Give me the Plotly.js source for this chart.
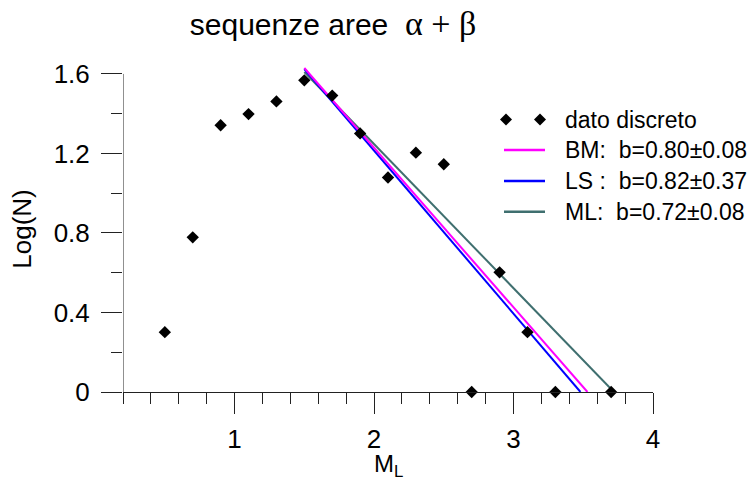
<!DOCTYPE html>
<html>
<head>
<meta charset="utf-8">
<script src="https://cdn.plot.ly/plotly-3.0.1.min.js"></script>
<style>html,body{margin:0;padding:0;background:#fff;}#chart{width:755px;height:481px;}</style>
</head>
<body>
<div id="chart"></div>
<script>
// Discrete data: magnitude M_L and Log(N)
const magnitudes = [0.5, 0.7, 0.9, 1.1, 1.3, 1.5, 1.7, 1.9, 2.1, 2.3, 2.5, 2.7, 2.9, 3.1, 3.3, 3.7];
const logN       = [0.301, 0.778, 1.342, 1.398, 1.462, 1.568, 1.491, 1.301, 1.079, 1.204, 1.146, 0, 0.602, 0.301, 0, 0];

// Fitted Gutenberg-Richter lines (endpoints)
const bmX = [1.5, 3.53],  bmY = [1.63, 0];
const lsX = [1.5, 3.48],  lsY = [1.625, 0];
const mlX = [1.5, 3.72],  mlY = [1.61, 0];

const legendLabels = ['dato discreto', 'BM:  b=0.80±0.08', 'LS :  b=0.82±0.37', 'ML:  b=0.72±0.08'];
const xTicks = [1, 2, 3, 4];
const yTicks = [0, 0.4, 0.8, 1.2, 1.6];
const yTickText = ['0', '0.4', '0.8', '1.2', '1.6'];
const xTitle = 'M<sub>L</sub>';
const yTitle = 'Log(N)';

const colors = {BM: '#ff00ff', LS: '#0000ff', ML: '#3f6f6f'};
const FONT = 'Liberation Sans, Arial, sans-serif';
const axisCol = '#222';

const traces = [
  {x: mlX, y: mlY, mode: 'lines', line: {color: colors.ML, width: 2}, showlegend: false},
  {x: lsX, y: lsY, mode: 'lines', line: {color: colors.LS, width: 2}, showlegend: false},
  {x: bmX, y: bmY, mode: 'lines', line: {color: colors.BM, width: 2}, showlegend: false},
  {x: magnitudes, y: logN, mode: 'markers', marker: {symbol: 'diamond', size: 9.5, color: '#000'}, showlegend: false, cliponaxis: false}
];

// plot area geometry (pixels)
const L = 123, R = 653, B = 392, yTop = 1.64;
const pxPerY = 318 / 1.6;
const T = Math.round(B - yTop * pxPerY);
const px = v => (v - L) / (R - L);
const py = v => (B - v) / (B - T);
const rowsY = [119.5, 150, 181, 211.7];
const lineColors = [null, colors.BM, colors.LS, colors.ML];

const annotations = legendLabels.map((t, i) => ({
  text: t, xref: 'paper', yref: 'paper', x: px(563), y: py(rowsY[i]),
  xanchor: 'left', yanchor: 'middle', showarrow: false,
  font: {family: FONT, size: 23, color: '#000'}
}));
// x axis title (placed as annotation so it is not squeezed by the margin)
annotations.push({
  text: xTitle, xref: 'paper', yref: 'paper', x: 0.5, y: py(448),
  xanchor: 'center', yanchor: 'top', showarrow: false,
  font: {family: FONT, size: 24, color: '#000'}
});

const shapes = [
  // y axis line (stops at the last tick, like the reference)
  {type: 'line', xref: 'x', yref: 'y', x0: 0.2, x1: 0.2, y0: 0, y1: yTicks[yTicks.length - 1],
   line: {color: axisCol, width: 1}}
];
for (let i = 1; i < 4; i++) {
  shapes.push({type: 'line', xref: 'paper', yref: 'paper', x0: px(504), x1: px(545), y0: py(rowsY[i]), y1: py(rowsY[i]),
    line: {color: lineColors[i], width: 2.5}});
}
[506, 540].forEach(cx => {
  shapes.push({type: 'path', xref: 'paper', yref: 'paper', xsizemode: 'pixel', ysizemode: 'pixel',
    xanchor: px(cx), yanchor: py(rowsY[0]), path: 'M -6 0 L 0 6 L 6 0 L 0 -6 Z',
    fillcolor: '#000', line: {width: 0}});
});

const layout = {
  width: 755, height: 481,
  margin: {l: L, r: 755 - R, t: T, b: 481 - B, pad: 0},
  paper_bgcolor: '#fff', plot_bgcolor: '#fff',
  font: {family: FONT, color: '#000'},
  title: {
    text: 'sequenze aree\u00a0 <span style="font-family:Liberation Serif;font-size:34px">α + β</span>',
    font: {family: FONT, size: 30, color: '#000'},
    x: px(333), xref: 'paper', xanchor: 'center',
    y: 1 - 24 / 481, yref: 'container', yanchor: 'middle'
  },
  xaxis: {
    range: [0.2, 4], showgrid: false, zeroline: false,
    showline: true, linecolor: axisCol, linewidth: 1,
    ticks: 'outside', ticklen: 21, tickwidth: 1, tickcolor: axisCol,
    tickvals: xTicks, ticktext: xTicks.map(String),
    tickfont: {family: FONT, size: 26, color: '#000'},
    ticklabelstandoff: 3,
    minor: {dtick: 0.2, tick0: 0, ticks: 'outside', ticklen: 11, tickcolor: axisCol, tickwidth: 1, showgrid: false},
    automargin: false
  },
  yaxis: {
    range: [0, yTop], showgrid: false, zeroline: false,
    showline: false,
    ticks: 'outside', ticklen: 21, tickwidth: 1, tickcolor: axisCol,
    tickvals: yTicks, ticktext: yTickText,
    tickfont: {family: FONT, size: 26, color: '#000'},
    ticklabelstandoff: 6,
    minor: {dtick: 0.2, tick0: 0, ticks: 'outside', ticklen: 11, tickcolor: axisCol, tickwidth: 1, showgrid: false},
    title: {text: yTitle, font: {family: FONT, size: 26, color: '#000'}, standoff: 14},
    automargin: false
  },
  showlegend: false,
  annotations: annotations,
  shapes: shapes
};

Plotly.newPlot('chart', traces, layout, {displayModeBar: false, staticPlot: true});
</script>
</body>
</html>
